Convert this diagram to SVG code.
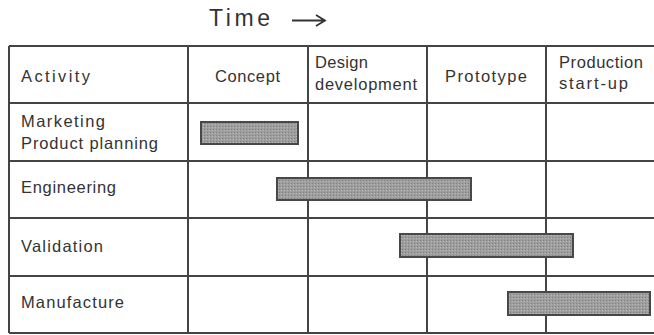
<svg xmlns="http://www.w3.org/2000/svg" width="654" height="335" viewBox="0 0 654 335">
<defs>
<pattern id="stipple" width="3" height="3" patternUnits="userSpaceOnUse">
<rect width="3" height="3" fill="#9e9e9e"/>
<rect x="0" y="0" width="1" height="1" fill="#7e7e7e"/>
<rect x="2" y="1" width="1" height="1" fill="#b8b8b8"/>
</pattern>
</defs>
<style>
text{font-family:"Liberation Sans",Arial,sans-serif;font-size:16.5px;fill:#333}
.grid{stroke:#444;stroke-width:2;fill:none}
.bar{fill:url(#stipple);stroke:#484848;stroke-width:2}
</style>
<rect width="654" height="335" fill="#fff"/>
<g id="title">
<text x="209" y="26" style="font-size:23px" textLength="61" lengthAdjust="spacing">Time</text>
<path d="M292 20.5 H324 M316 15 L325 20.5 L316 26" stroke="#333" stroke-width="1.8" fill="none"/>
</g>
<g id="grid" class="grid">
<path d="M9 46 H654 M9 46 V333 M9 333 H654"/>
<path d="M188 46 V333 M308 46 V333 M427 46 V333 M546 46 V333"/>
<path d="M9 103 H654 M9 161 H654 M9 218 H654 M9 276 H654"/>
</g>
<g id="header">
<text x="21" y="82" textLength="69" lengthAdjust="spacing">Activity</text>
<text x="215" y="82" textLength="65" lengthAdjust="spacing">Concept</text>
<text x="315" y="68" textLength="53" lengthAdjust="spacing">Design</text>
<text x="315" y="90" textLength="102" lengthAdjust="spacing">development</text>
<text x="445" y="82" textLength="82" lengthAdjust="spacing">Prototype</text>
<text x="559" y="68" textLength="84" lengthAdjust="spacing">Production</text>
<text x="559" y="89" textLength="69" lengthAdjust="spacing">start-up</text>
</g>
<g id="row-marketing">
<text x="21" y="127" textLength="84" lengthAdjust="spacing">Marketing</text>
<text x="21" y="149" textLength="137" lengthAdjust="spacing">Product planning</text>
<rect class="bar" x="201" y="122" width="97" height="22"/>
</g>
<g id="row-engineering">
<text x="21" y="193" textLength="95" lengthAdjust="spacing">Engineering</text>
<rect class="bar" x="277" y="178" width="194" height="22"/>
</g>
<g id="row-validation">
<text x="21" y="252" textLength="82" lengthAdjust="spacing">Validation</text>
<rect class="bar" x="400" y="234" width="173" height="23"/>
</g>
<g id="row-manufacture">
<text x="21" y="308" textLength="103" lengthAdjust="spacing">Manufacture</text>
<rect class="bar" x="508" y="292" width="142" height="23"/>
</g>
</svg>
